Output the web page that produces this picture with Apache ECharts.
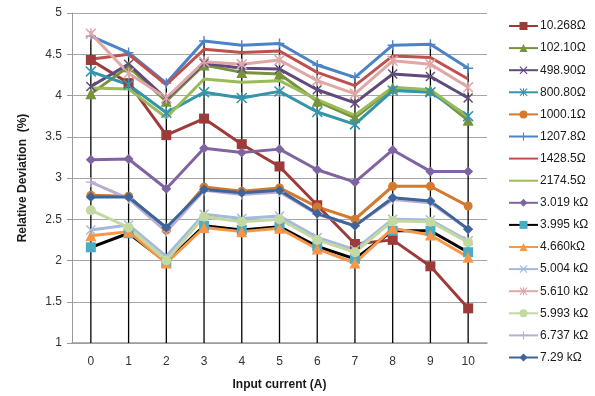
<!DOCTYPE html>
<html>
<head>
<meta charset="utf-8">
<script src="https://cdn.jsdelivr.net/npm/echarts@6/dist/echarts.min.js"></script>
<style>
  html, body { margin: 0; padding: 0; background: #fff; }
  #chart { width: 595px; height: 396px; }
</style>
</head>
<body>
<div id="chart"></div>
<script>
// Input current steps (A)
const currents = ['0', '1', '2', '3', '4', '5', '6', '7', '8', '9', '10'];

// Relative deviation (%) for each resistor value
const r10_268  = [4.43, 4.15, 3.52, 3.72, 3.41, 3.14, 2.67, 2.20, 2.25, 1.93, 1.42];
const r102_10  = [4.02, 4.35, 3.93, 4.37, 4.28, 4.26, 3.93, 3.73, 4.09, 4.06, 3.70];
const r498_90  = [4.11, 4.38, 3.96, 4.39, 4.33, 4.32, 4.07, 3.91, 4.26, 4.23, 3.97];
const r800_80  = [4.29, 4.13, 3.79, 4.04, 3.97, 4.05, 3.80, 3.65, 4.06, 4.04, 3.75];
const r1000_1  = [2.79, 2.78, 2.37, 2.89, 2.84, 2.88, 2.65, 2.50, 2.90, 2.90, 2.66];
const r1207_8  = [4.72, 4.52, 4.15, 4.66, 4.61, 4.63, 4.37, 4.22, 4.61, 4.62, 4.33];
const r1428_5  = [4.44, 4.50, 4.13, 4.56, 4.52, 4.54, 4.28, 4.12, 4.48, 4.46, 4.20];
const r2174_5  = [4.09, 4.08, 3.73, 4.20, 4.16, 4.18, 3.95, 3.76, 4.10, 4.07, 3.74];
const r3_019k  = [3.22, 3.23, 2.87, 3.36, 3.31, 3.35, 3.10, 2.95, 3.34, 3.08, 3.08];
const r3_995k  = [2.16, 2.33, 1.98, 2.42, 2.37, 2.41, 2.17, 2.02, 2.36, 2.36, 2.10];
const r4_660k  = [2.30, 2.35, 1.97, 2.40, 2.35, 2.39, 2.14, 1.97, 2.39, 2.31, 2.04];
const r5_004k  = [2.37, 2.43, 2.05, 2.56, 2.51, 2.54, 2.28, 2.13, 2.50, 2.49, 2.24];
const r5_610k  = [4.75, 4.27, 3.97, 4.41, 4.38, 4.43, 4.18, 4.02, 4.42, 4.38, 4.10];
const r5_993k  = [2.61, 2.40, 2.00, 2.53, 2.47, 2.50, 2.25, 2.10, 2.48, 2.47, 2.22];
const r6_737k  = [2.95, 2.75, 2.35, 2.85, 2.80, 2.83, 2.56, 2.42, 2.74, 2.70, 2.38];
const r7_29k   = [2.77, 2.77, 2.40, 2.86, 2.82, 2.85, 2.57, 2.42, 2.76, 2.72, 2.38];

// Y axis range and tick spacing
const yMin = 1, yMax = 5, yStep = 0.5;

// Marker outlines built as filled shapes
const SYM_X = 'path://M0,1 L1,0 L5,4 L9,0 L10,1 L6,5 L10,9 L9,10 L5,6 L1,10 L0,9 L4,5 Z';
const SYM_STAR = 'path://M0,1 L1,0 L5,4 L9,0 L10,1 L6,5 L10,9 L9,10 L5,6 L1,10 L0,9 L4,5 Z M4.4,0 L5.6,0 L5.6,10 L4.4,10 Z';
const SYM_PLUS = 'path://M4.3,0 L5.7,0 L5.7,4.3 L10,4.3 L10,5.7 L5.7,5.7 L5.7,10 L4.3,10 L4.3,5.7 L0,5.7 L0,4.3 L4.3,4.3 Z';

const seriesDefs = [
  { name: '10.268Ω',  data: r10_268, color: '#9E3B3A', symbol: 'rect',     size: 10 },
  { name: '102.10Ω',  data: r102_10, color: '#77933C', symbol: 'triangle', size: 11 },
  { name: '498.90Ω',  data: r498_90, color: '#604A7B', symbol: SYM_X,      size: 10 },
  { name: '800.80Ω',  data: r800_80, color: '#3494AA', symbol: SYM_STAR,   size: 11 },
  { name: '1000.1Ω',  data: r1000_1, color: '#D27A30', symbol: 'circle',   size: 9 },
  { name: '1207.8Ω',  data: r1207_8, color: '#4A84C6', symbol: SYM_PLUS,   size: 10 },
  { name: '1428.5Ω',  data: r1428_5, color: '#C0504D', symbol: 'none',     size: 0 },
  { name: '2174.5Ω',  data: r2174_5, color: '#9BBB59', symbol: 'none',     size: 0 },
  { name: '3.019 kΩ', data: r3_019k, color: '#8064A2', symbol: 'diamond',  size: 10 },
  { name: '3.995 kΩ', data: r3_995k, color: '#000000', symbol: 'rect',     size: 10, markColor: '#4BACC6' },
  { name: '4.660kΩ',  data: r4_660k, color: '#F79646', symbol: 'triangle', size: 11 },
  { name: '5.004 kΩ', data: r5_004k, color: '#A3BADD', symbol: SYM_X,      size: 10 },
  { name: '5.610 kΩ', data: r5_610k, color: '#DFA7A6', symbol: SYM_STAR,   size: 11 },
  { name: '5.993 kΩ', data: r5_993k, color: '#C4D8A2', symbol: 'circle',   size: 10 },
  { name: '6.737 kΩ', data: r6_737k, color: '#BAADD2', symbol: SYM_PLUS,   size: 10 },
  { name: '7.29 kΩ',  data: r7_29k,  color: '#3C659C', symbol: 'diamond',  size: 10 }
];

// Drop lines run from the highest point at each current down to the axis
const dropTops = currents.map((_, i) => Math.max(...seriesDefs.map(s => s.data[i])));

const lineSeries = seriesDefs.map(s => {
  const plain = s.symbol === 'none';
  return {
    name: s.name,
    type: 'line',
    data: s.data,
    symbol: plain ? 'circle' : s.symbol,
    symbolSize: plain ? 0 : s.size,
    showSymbol: !plain,
    color: s.markColor || s.color,
    lineStyle: { color: s.color, width: 3 },
    itemStyle: { color: s.markColor || s.color, borderWidth: 0, opacity: plain ? 0 : 1 },
    z: 3,
    animation: false
  };
});

const dropSeries = {
  name: 'drop',
  type: 'bar',
  data: dropTops,
  barWidth: 1.3,
  itemStyle: { color: '#000000' },
  silent: true,
  z: 2,
  animation: false
};

const legendItems = seriesDefs.map(s => (
  s.symbol === 'none'
    ? { name: s.name, itemStyle: { opacity: 0 } }
    : { name: s.name }
));

const chart = echarts.init(document.getElementById('chart'), null, { renderer: 'canvas' });
chart.setOption({
  backgroundColor: '#ffffff',
  animation: false,
  textStyle: { fontFamily: 'Liberation Sans, Arial, sans-serif' },
  grid: { left: 72, right: 108, top: 13, bottom: 53, containLabel: false },
  legend: {
    data: legendItems,
    orient: 'vertical',
    left: 503,
    top: 15,
    itemWidth: 29,
    itemHeight: 10,
    itemGap: 10.1,
    textStyle: { fontSize: 12, color: '#1a1a1a', fontFamily: 'Liberation Sans, Arial, sans-serif', padding: [0, 0, 0, -3] },
    selectedMode: false
  },
  xAxis: {
    type: 'category',
    data: currents,
    boundaryGap: true,
    name: 'Input current (A)',
    nameLocation: 'middle',
    nameGap: 36,
    nameTextStyle: { fontSize: 12, fontWeight: 'bold', color: '#1a1a1a' },
    axisLine: { lineStyle: { color: '#9a9a9a', width: 1.5 } },
    axisTick: { show: false },
    axisLabel: { fontSize: 12, color: '#333', margin: 13 },
    splitLine: { show: false }
  },
  yAxis: {
    type: 'value',
    min: yMin,
    max: yMax,
    interval: yStep,
    name: 'Relative Deviation  (%)',
    nameLocation: 'middle',
    nameGap: 43,
    nameTextStyle: { fontSize: 12, fontWeight: 'bold', color: '#1a1a1a' },
    axisLine: { show: true, lineStyle: { color: '#9a9a9a', width: 1 } },
    axisTick: { show: true, length: 5, lineStyle: { color: '#9a9a9a' } },
    axisLabel: { fontSize: 12, color: '#333', margin: 10 },
    splitLine: { show: true, lineStyle: { color: '#a6a6a6', width: 1 } }
  },
  series: [dropSeries].concat(lineSeries)
});
</script>
</body>
</html>
